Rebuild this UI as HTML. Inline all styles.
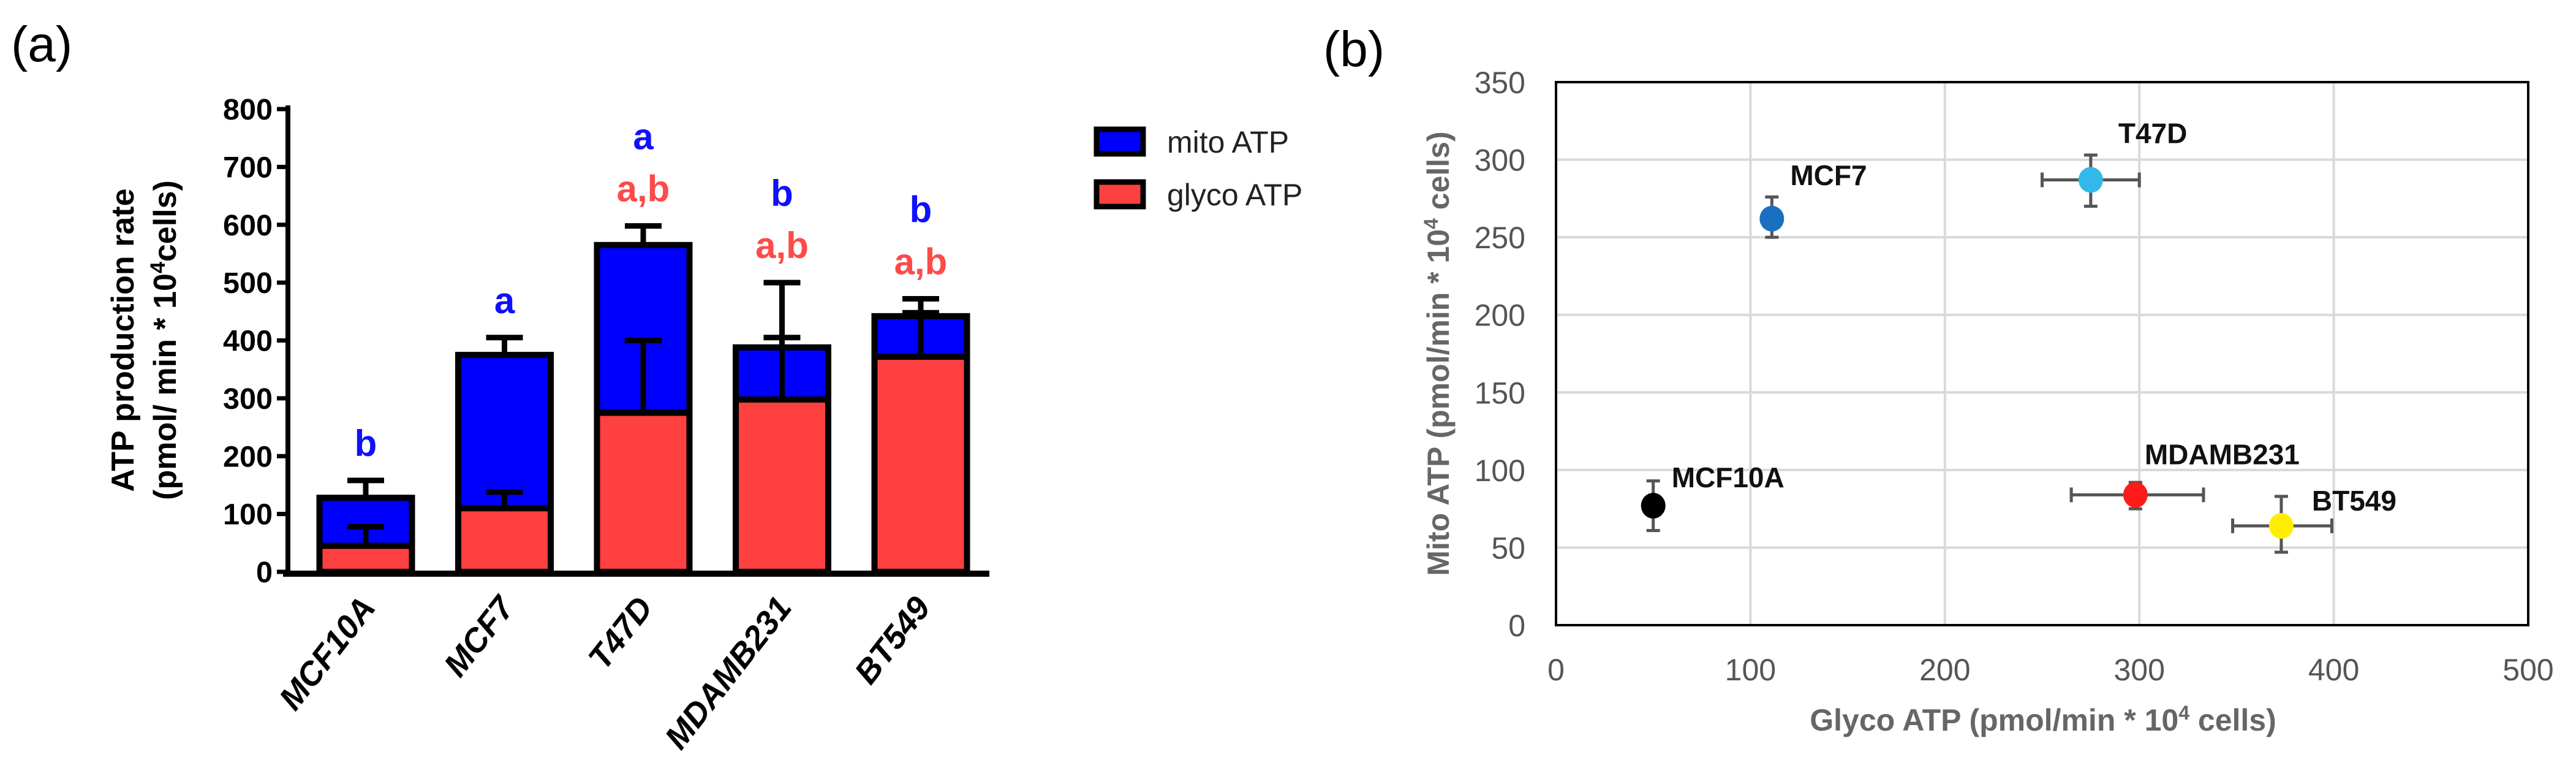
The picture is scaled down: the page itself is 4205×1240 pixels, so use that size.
<!DOCTYPE html>
<html><head><meta charset="utf-8"><style>
html,body{margin:0;padding:0;background:#fff;}
svg{display:block;font-family:"Liberation Sans",Arial,sans-serif;}
</style></head><body>
<svg id="fig" width="4205" height="1240" viewBox="0 0 4205 1240" xmlns="http://www.w3.org/2000/svg">
<text x="18" y="100" font-size="82">(a)</text>
<text x="2160" y="108" font-size="82">(b)</text>
<g id="barChart"></g>
<g id="scatter"></g>
</svg>
<script>
const NS="http://www.w3.org/2000/svg";
// ---- Panel (a) data ----
const barCats=["MCF10A","MCF7","T47D","MDAMB231","BT549"];
const glycoVals=[45,110,275,298,372];
const totalVals=[128,375,565,388,442];
const glycoErr=[78,138,400,500,448];
const totalErr=[158,405,598,405,472];
const mitoLetters=["b","a","a","b","b"];
const glycoLetters=["","","a,b","a,b","a,b"];
const barTicks=[0,100,200,300,400,500,600,700,800];
// ---- Panel (b) data ----
const ptNames=["MCF10A","MCF7","T47D","MDAMB231","BT549"];
const ptX=[50,111,275,298,373];
const ptY=[77,262,287,84,64];
const ptXLo=[50,111,250,265,348];
const ptXHi=[50,111,300,333,399];
const ptYLo=[61,250,270,75,47];
const ptYHi=[93,276,303,92,83];
const ptColors=["#000000","#1a6fc0","#33b8ea","#ff1a1a","#ffee00"];
const xTicksB=[0,100,200,300,400,500];
const yTicksB=[0,50,100,150,200,250,300,350];

function mk(parent,tag,attrs,text){const e=document.createElementNS(NS,tag);for(const k in attrs)e.setAttribute(k,attrs[k]);if(text!==undefined)e.textContent=text;parent.appendChild(e);return e;}

// Panel a
const A=document.getElementById('barChart');
const ay=v=>933-v*(933-178)/800;
const ax=i=>597+i*226.5;
const bw=151;
barTicks.forEach(t=>{
  const tk=mk(A,'line',{x1:452,x2:470,y1:ay(t),y2:ay(t),stroke:'#000','stroke-width':7});
  
  const l=mk(A,'text',{x:445,y:ay(t)+17,'text-anchor':'end','font-size':48,'font-weight':'bold',textLength:String(t).length*27,lengthAdjust:'spacingAndGlyphs'},String(t));
  
});
barCats.forEach((c,i)=>{
  const cx=ax(i),x0=cx-bw/2;
  const g=mk(A,'rect',{x:x0,y:ay(glycoVals[i]),width:bw,height:ay(0)-ay(glycoVals[i]),fill:'#ff4040',stroke:'#000','stroke-width':10});
  
  const m=mk(A,'rect',{x:x0,y:ay(totalVals[i]),width:bw,height:ay(glycoVals[i])-ay(totalVals[i]),fill:'#0000ff',stroke:'#000','stroke-width':10});
  
  [[totalVals[i],totalErr[i],'mito'],[glycoVals[i],glycoErr[i],'glyco']].forEach(([v,e,n])=>{
    const eg=mk(A,'path',{d:`M${cx},${ay(v)}V${ay(e)}M${cx-30},${ay(e)}H${cx+30}`,stroke:'#000','stroke-width':9,fill:'none'});
    
  });
  const ml=mk(A,'text',{x:cx,y:ay(Math.max(totalErr[i],glycoErr[i]))-(glycoLetters[i]?125:40),'text-anchor':'middle','font-size':60,'font-weight':'bold',fill:'#1010ff'},mitoLetters[i]);
  
  if(glycoLetters[i]){
    const gl=mk(A,'text',{x:cx,y:ay(Math.max(totalErr[i],glycoErr[i]))-40,'text-anchor':'middle','font-size':60,'font-weight':'bold',fill:'#ff4a4a'},glycoLetters[i]);
    
  }
  const xl=mk(A,'text',{transform:`translate(${cx+18},${992}) rotate(-52)`,'text-anchor':'end','font-size':54,'font-weight':'bold','font-style':'italic'},c);
  
});
const yaxA=mk(A,'line',{x1:470,x2:470,y1:172,y2:938,stroke:'#000','stroke-width':8});

const xaxA=mk(A,'line',{x1:462,x2:1615,y1:936,y2:936,stroke:'#000','stroke-width':10});

const yt=mk(A,'text',{transform:'translate(218,555) rotate(-90)','text-anchor':'middle','font-size':52,'font-weight':'bold'},'ATP production rate');

const yt2=mk(A,'text',{transform:'translate(287,555) rotate(-90)','text-anchor':'middle','font-size':52,'font-weight':'bold'});

yt2.innerHTML='(pmol/ min * 10<tspan dy="-18" font-size="34">4</tspan><tspan dy="18">cells)</tspan>';
[['mito ATP','#0000ff',207],['glyco ATP','#ff4040',293]].forEach(([n,col,y])=>{
  const r=mk(A,'rect',{x:1790,y:y+4,width:76,height:40,fill:col,stroke:'#000','stroke-width':9});
  
  const t=mk(A,'text',{x:1905,y:y+42,'font-size':50,fill:'#222'},n);
  
});

// Panel b
const B=document.getElementById('scatter');
const bx=v=>2540+v*(4127-2540)/500;
const by=v=>1020-v*(1020-134)/350;
yTicksB.forEach(t=>{
  if(t>0&&t<350){const gl=mk(B,'line',{x1:bx(0),x2:bx(500),y1:by(t),y2:by(t),stroke:'#d9d9d9','stroke-width':4});
  }
  const l=mk(B,'text',{x:2490,y:by(t)+18,'text-anchor':'end','font-size':50,fill:'#555'},String(t));
  
});
xTicksB.forEach(t=>{
  if(t>0&&t<500){const gl=mk(B,'line',{x1:bx(t),x2:bx(t),y1:by(0),y2:by(350),stroke:'#d9d9d9','stroke-width':4});
  }
  const l=mk(B,'text',{x:bx(t),y:1110,'text-anchor':'middle','font-size':50,fill:'#555'},String(t));
  
});
const box=mk(B,'rect',{x:bx(0),y:by(350),width:bx(500)-bx(0),height:by(0)-by(350),fill:'none',stroke:'#000','stroke-width':4});

ptNames.forEach((n,i)=>{
  const cx=bx(ptX[i]),cy=by(ptY[i]);
  let d=`M${cx},${by(ptYLo[i])}V${by(ptYHi[i])}M${cx-11},${by(ptYLo[i])}h22M${cx-11},${by(ptYHi[i])}h22`;
  if(ptXHi[i]>ptXLo[i]) d+=`M${bx(ptXLo[i])},${cy}H${bx(ptXHi[i])}M${bx(ptXLo[i])},${cy-12}v24M${bx(ptXHi[i])},${cy-12}v24`;
  const e=mk(B,'path',{d:d,stroke:'#555','stroke-width':5,fill:'none'});
  
  const c=mk(B,'ellipse',{cx:cx,cy:cy,rx:20,ry:21,fill:ptColors[i]});
  
  const lx={MCF10A:cx+30,MCF7:cx+30,T47D:cx+45,MDAMB231:cx+15,BT549:cx+50}[n];
  const ly={MCF10A:cy-30,MCF7:cy-55,T47D:cy-60,MDAMB231:cy-50,BT549:cy-25}[n];
  const t=mk(B,'text',{x:lx,y:ly,'font-size':46,'font-weight':'bold',fill:'#111'},n);
  
});
const bxt=mk(B,'text',{x:3335,y:1192,'text-anchor':'middle','font-size':50,'font-weight':'bold',fill:'#666'});

bxt.innerHTML='Glyco ATP (pmol/min * 10<tspan dy="-18" font-size="32">4</tspan><tspan dy="18"> cells)</tspan>';
const byt=mk(B,'text',{transform:'translate(2365,577) rotate(-90)','text-anchor':'middle','font-size':50,'font-weight':'bold',fill:'#666'});

byt.innerHTML='Mito ATP (pmol/min * 10<tspan dy="-18" font-size="32">4</tspan><tspan dy="18"> cells)</tspan>';
</script>
</body></html>
